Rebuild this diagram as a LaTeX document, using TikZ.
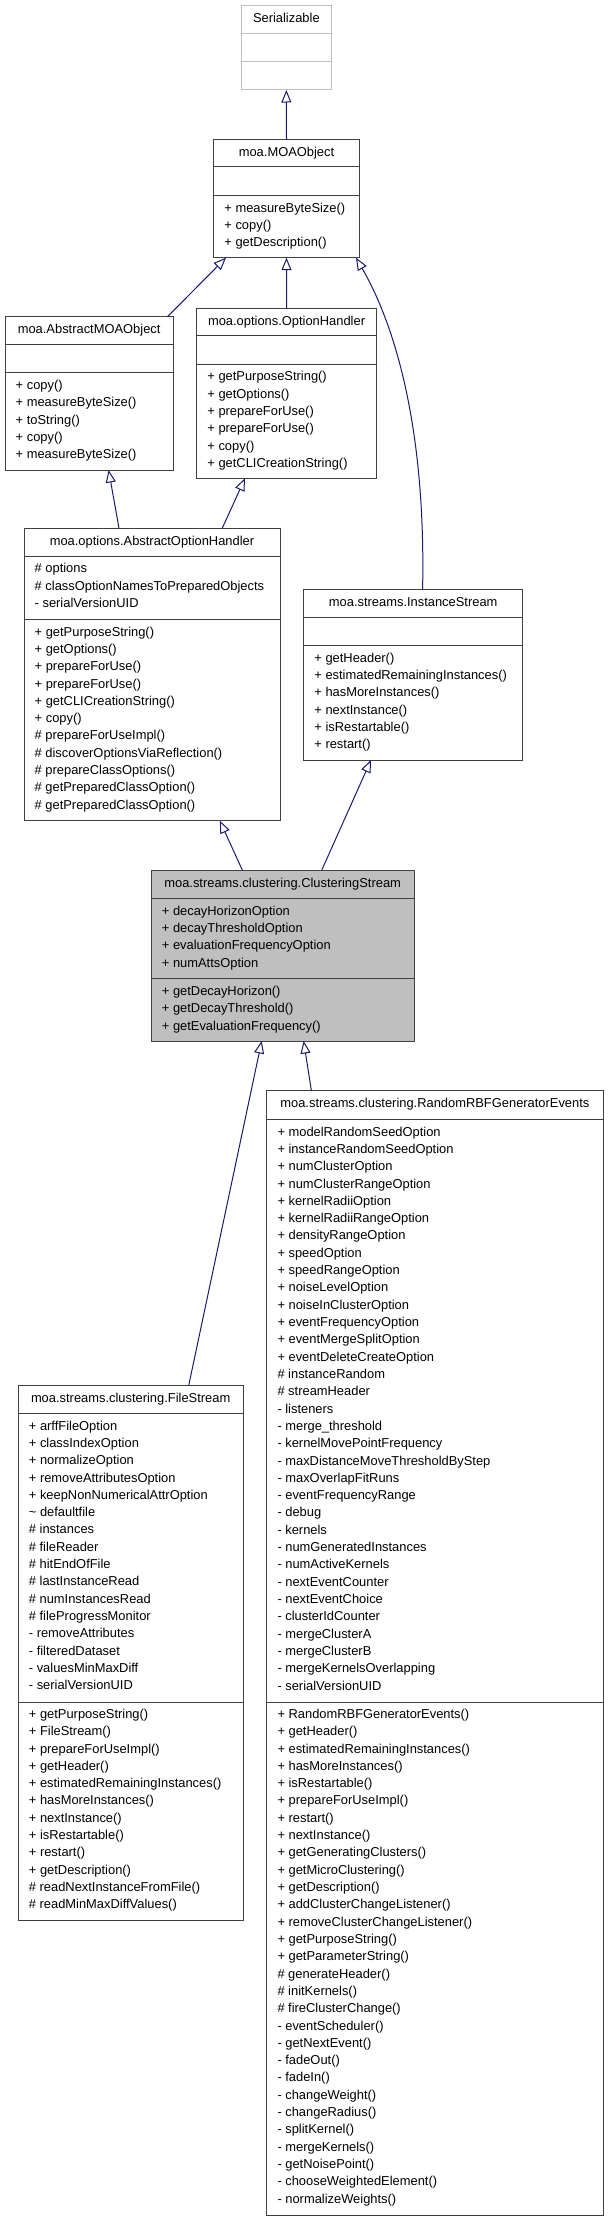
\documentclass[tikz,border=0pt]{standalone}
\usepackage{fontspec}
\setmainfont{Liberation Sans}
\usetikzlibrary{arrows.meta}
\definecolor{edgec}{HTML}{191970}
\definecolor{boxc}{HTML}{404040}
\definecolor{greyc}{HTML}{BFBFBF}
\newcommand\memberfont{\fontsize{12.9}{17.3}\selectfont}
\tikzset{
  cls/.style={draw=boxc, line width=1pt, rectangle, inner sep=0pt, outer sep=0pt, anchor=north west},
  clstitle/.style={anchor=base, inner sep=0pt, font=\memberfont},
  member/.style={anchor=base west, inner sep=0pt, font=\memberfont},
  inh/.style={draw=edgec, line width=1pt, -{Triangle[open, length=12.5pt, width=10pt]}},
  divl/.style={draw=boxc, line width=1pt},
  divg/.style={draw=greyc, line width=1pt}
}
\newcommand\members[4]{%
  \foreach \t [count=\i from 0] in {#4}{\node[member] (#1\i) at (#2, {#3+\i*17.31}) {\t};}}
\begin{document}
\begin{tikzpicture}[x=1pt, y=-1pt]
\useasboundingbox (0,0) rectangle (608,2221);

% Serializable
\node[cls, draw=greyc, minimum width=89.3pt, minimum height=84.3pt] (ser) at (241.7,5.7) {};
\draw[divg] ([yshift=-27.6pt]ser.north west) -- ([yshift=-27.6pt]ser.north east);
\draw[divg] ([yshift=-56pt]ser.north west) -- ([yshift=-56pt]ser.north east);
\node[clstitle] (sert) at ([yshift=-17pt]ser.north) {Serializable};

% MOAObject
\node[cls, minimum width=145.6pt, minimum height=118.4pt] (moa) at (213.7,139.3) {};
\draw[divl] ([yshift=-27.4pt]moa.north west) -- ([yshift=-27.4pt]moa.north east);
\draw[divl] ([yshift=-55.7pt]moa.north west) -- ([yshift=-55.7pt]moa.north east);
\node[clstitle] (moat) at ([yshift=-17pt]moa.north) {moa.MOAObject};
\members{moam}{224.2}{212.2}{+ measureByteSize(), + copy(), + getDescription()}

% AbstractMOAObject
\node[cls, minimum width=168.3pt, minimum height=153.3pt] (amo) at (5,316.7) {};
\draw[divl] ([yshift=-27.3pt]amo.north west) -- ([yshift=-27.3pt]amo.north east);
\draw[divl] ([yshift=-55.6pt]amo.north west) -- ([yshift=-55.6pt]amo.north east);
\node[clstitle] (amot) at ([yshift=-17pt]amo.north) {moa.AbstractMOAObject};
\members{amom}{15.5}{389.4}{+ copy(), + measureByteSize(), + toString(), + copy(), + measureByteSize()}

% OptionHandler
\node[cls, minimum width=179.7pt, minimum height=170pt] (oh) at (196.7,308.3) {};
\draw[divl] ([yshift=-27.4pt]oh.north west) -- ([yshift=-27.4pt]oh.north east);
\draw[divl] ([yshift=-55.7pt]oh.north west) -- ([yshift=-55.7pt]oh.north east);
\node[clstitle] (oht) at ([yshift=-17pt]oh.north) {moa.options.OptionHandler};
\members{ohm}{207.2}{380.9}{+ getPurposeString(), + getOptions(), + prepareForUse(), + prepareForUse(), + copy(), + getCLICreationString()}

% AbstractOptionHandler
\node[cls, minimum width=256pt, minimum height=292.4pt] (aoh) at (24,528.3) {};
\draw[divl] ([yshift=-28.4pt]aoh.north west) -- ([yshift=-28.4pt]aoh.north east);
\draw[divl] ([yshift=-90.7pt]aoh.north west) -- ([yshift=-90.7pt]aoh.north east);
\node[clstitle] (aoht) at ([yshift=-17pt]aoh.north) {moa.options.AbstractOptionHandler};
\members{aoha}{34.5}{572.9}{\# options, \# classOptionNamesToPreparedObjects, - serialVersionUID}
\members{aohm}{34.5}{636.1}{+ getPurposeString(), + getOptions(), + prepareForUse(), + prepareForUse(), + getCLICreationString(), + copy(), \# prepareForUseImpl(), \# discoverOptionsViaReflection(), \# prepareClassOptions(), \# getPreparedClassOption(), \# getPreparedClassOption()}

% InstanceStream
\node[cls, minimum width=219pt, minimum height=170.7pt] (is) at (303.7,589.3) {};
\draw[divl] ([yshift=-27.7pt]is.north west) -- ([yshift=-27.7pt]is.north east);
\draw[divl] ([yshift=-56pt]is.north west) -- ([yshift=-56pt]is.north east);
\node[clstitle] (ist) at ([yshift=-17pt]is.north) {moa.streams.InstanceStream};
\members{ism}{314.2}{662.1}{+ getHeader(), + estimatedRemainingInstances(), + hasMoreInstances(), + nextInstance(), + isRestartable(), + restart()}

% ClusteringStream
\node[cls, fill=greyc, minimum width=262.9pt, minimum height=171pt] (cs) at (151.2,870) {};
\draw[divl] ([yshift=-28.3pt]cs.north west) -- ([yshift=-28.3pt]cs.north east);
\draw[divl] ([yshift=-108.7pt]cs.north west) -- ([yshift=-108.7pt]cs.north east);
\node[clstitle] (cst) at ([yshift=-17pt]cs.north) {moa.streams.clustering.ClusteringStream};
\members{csa}{161.7}{915.1}{+ decayHorizonOption, + decayThresholdOption, + evaluationFrequencyOption, + numAttsOption}
\members{csm}{161.7}{995.5}{+ getDecayHorizon(), + getDecayThreshold(), + getEvaluationFrequency()}

% FileStream
\node[cls, minimum width=224.9pt, minimum height=535.7pt] (fs) at (18.2,1385) {};
\draw[divl] ([yshift=-28.8pt]fs.north west) -- ([yshift=-28.8pt]fs.north east);
\draw[divl] ([yshift=-317.3pt]fs.north west) -- ([yshift=-317.3pt]fs.north east);
\node[clstitle] (fst) at ([yshift=-17pt]fs.north) {moa.streams.clustering.FileStream};
\members{fsa}{28.7}{1430.1}{+ arffFileOption, + classIndexOption, + normalizeOption, + removeAttributesOption, + keepNonNumericalAttrOption, \textasciitilde\ defaultfile, \# instances, \# fileReader, \# hitEndOfFile, \# lastInstanceRead, \# numInstancesRead, \# fileProgressMonitor, - removeAttributes, - filteredDataset, - valuesMinMaxDiff, - serialVersionUID}
\members{fsm}{28.7}{1718.4}{+ getPurposeString(), + FileStream(), + prepareForUseImpl(), + getHeader(), + estimatedRemainingInstances(), + hasMoreInstances(), + nextInstance(), + isRestartable(), + restart(), + getDescription(), \# readNextInstanceFromFile(), \# readMinMaxDiffValues()}

% RandomRBFGeneratorEvents
\node[cls, minimum width=336.2pt, minimum height=1125pt] (rbf) at (266.8,1090.7) {};
\draw[divl] ([yshift=-28.6pt]rbf.north west) -- ([yshift=-28.6pt]rbf.north east);
\draw[divl] ([yshift=-611.6pt]rbf.north west) -- ([yshift=-611.6pt]rbf.north east);
\node[clstitle] (rbft) at ([yshift=-17pt]rbf.north) {moa.streams.clustering.RandomRBFGeneratorEvents};
\members{rbfa}{277.3}{1136.1}{+ modelRandomSeedOption, + instanceRandomSeedOption, + numClusterOption, + numClusterRangeOption, + kernelRadiiOption, + kernelRadiiRangeOption, + densityRangeOption, + speedOption, + speedRangeOption, + noiseLevelOption, + noiseInClusterOption, + eventFrequencyOption, + eventMergeSplitOption, + eventDeleteCreateOption, \# instanceRandom, \# streamHeader, - listeners, - merge\_threshold, - kernelMovePointFrequency, - maxDistanceMoveThresholdByStep, - maxOverlapFitRuns, - eventFrequencyRange, - debug, - kernels, - numGeneratedInstances, - numActiveKernels, - nextEventCounter, - nextEventChoice, - clusterIdCounter, - mergeClusterA, - mergeClusterB, - mergeKernelsOverlapping, - serialVersionUID}
\members{rbfm}{277.3}{1718.4}{+ RandomRBFGeneratorEvents(), + getHeader(), + estimatedRemainingInstances(), + hasMoreInstances(), + isRestartable(), + prepareForUseImpl(), + restart(), + nextInstance(), + getGeneratingClusters(), + getMicroClustering(), + getDescription(), + addClusterChangeListener(), + removeClusterChangeListener(), + getPurposeString(), + getParameterString(), \# generateHeader(), \# initKernels(), \# fireClusterChange(), - eventScheduler(), - getNextEvent(), - fadeOut(), - fadeIn(), - changeWeight(), - changeRadius(), - splitKernel(), - mergeKernels(), - getNoisePoint(), - chooseWeightedElement(), - normalizeWeights()}

% Inheritance connectors
\draw[inh] (moa.north) -- (ser.south);
\draw[inh] ([xshift=78.35pt]amo.north) -- ([xshift=-60.5pt]moa.south);
\draw[inh] (oh.north) -- (moa.south);
\draw[inh] ([xshift=9.4pt]is.north) .. controls +(3.4,-169.3) and +(36,62.3) .. ([xshift=69.5pt]moa.south);
\draw[inh] ([xshift=-33pt]aoh.north) -- ([xshift=19.45pt]amo.south);
\draw[inh] ([xshift=70.2pt]aoh.north) -- ([xshift=-41.55pt]oh.south);
\draw[inh] ([xshift=-40.35pt]cs.north) -- ([xshift=67.8pt]aoh.south);
\draw[inh] ([xshift=39.15pt]cs.north) -- ([xshift=-42.2pt]is.south);
\draw[inh] ([xshift=58.15pt]fs.north) -- ([xshift=-20.95pt]cs.south);
\draw[inh] ([xshift=-123.5pt]rbf.north) -- ([xshift=20.95pt]cs.south);
\end{tikzpicture}
\end{document}
